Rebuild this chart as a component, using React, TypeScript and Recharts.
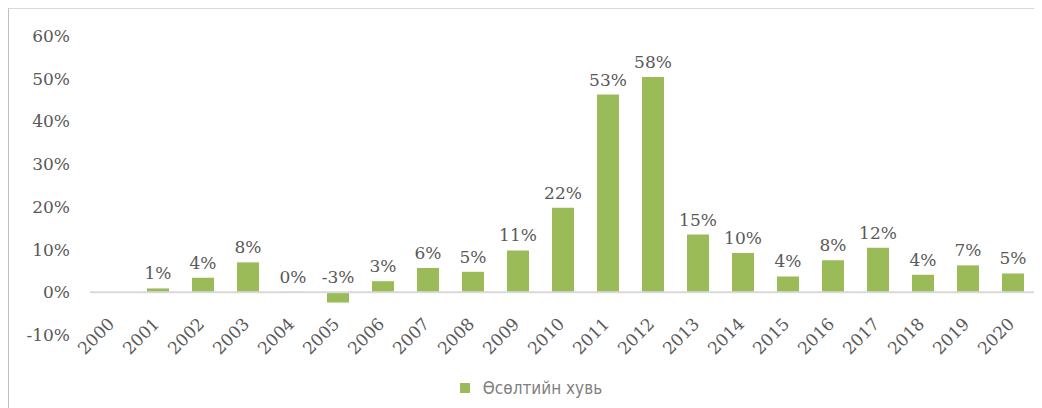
import { BarChart, Bar, XAxis, YAxis, ReferenceLine, Legend, LabelList } from 'recharts';

const YEARS = ['2000', '2001', '2002', '2003', '2004', '2005', '2006', '2007', '2008', '2009', '2010',
  '2011', '2012', '2013', '2014', '2015', '2016', '2017', '2018', '2019', '2020'];
// bar heights as drawn in the picture
const GROWTH = [0, 0.009, 0.034, 0.07, 0.001, -0.024, 0.026, 0.057, 0.048, 0.098, 0.198,
  0.463, 0.504, 0.135, 0.092, 0.037, 0.075, 0.104, 0.041, 0.063, 0.044];
// data labels as printed above the bars
const LABELS = ['', '1%', '4%', '8%', '0%', '-3%', '3%', '6%', '5%', '11%', '22%',
  '53%', '58%', '15%', '10%', '4%', '8%', '12%', '4%', '7%', '5%'];
const Y_TICKS = [-0.1, 0, 0.1, 0.2, 0.3, 0.4, 0.5, 0.6];

const data = YEARS.map((year, i) => ({ year, growth: GROWTH[i], label: LABELS[i] }));

const FONT = '"DejaVu Serif", serif';
const TEXT = '#595959';

const YearTick = (props: any) => {
  const { x, y, payload } = props;
  const tx = x + 3;
  const ty = y - 18;
  return (
    <text x={tx} y={ty} textAnchor="end" fill={TEXT} fontSize={17} fontFamily={FONT}
      transform={`rotate(-45, ${tx}, ${ty})`}>
      {payload.value}
    </text>
  );
};

const renderLabel = (props: any) => {
  const { x, y, width, height, value } = props;
  // above the bar top, or above the zero line for negative bars
  const top = height < 0 ? y + height : y;
  return (
    <text x={x + width / 2} y={top - 9} textAnchor="middle" fill={TEXT} fontSize={17} fontFamily={FONT}>
      {value}
    </text>
  );
};

const LegendBox = () => (
  <div style={{ height: 24, display: 'flex', justifyContent: 'center', alignItems: 'center', paddingLeft: 18,
    fontFamily: '"Liberation Sans Narrow", "DejaVu Sans Condensed", sans-serif', fontSize: 17, color: '#7f7f7f' }}>
    <span style={{ width: 10, height: 10, background: '#9bbb59', marginRight: 13 }} />
    <span>Өсөлтийн хувь</span>
  </div>
);

export default function App() {
  return (
    <div style={{ width: 1034, height: 400, borderTop: '1px solid #d9d9d9', borderLeft: '1px solid #bfbfbf', boxSizing: 'border-box' }}>
      <BarChart width={1033} height={399} data={data} barSize={22}
        margin={{ top: 27, right: 7, left: 0, bottom: 8 }}>
        <XAxis dataKey="year" axisLine={false} tickLine={false}
          height={41} interval={0} tick={<YearTick />} />
        <YAxis domain={[-0.1, 0.6]} ticks={Y_TICKS} axisLine={false} tickLine={false} width={81}
          tickMargin={14} tickFormatter={(v: number) => `${Math.round(v * 100)}%`}
          tick={{ fill: TEXT, fontSize: 17, fontFamily: FONT }} />
        <Bar dataKey="growth" fill="#9bbb59" isAnimationActive={false}>
          <LabelList dataKey="label" content={renderLabel} />
        </Bar>
        <ReferenceLine y={0} stroke="#d9d9d9" strokeWidth={2} />
        <Legend verticalAlign="bottom" content={<LegendBox />} />
      </BarChart>
    </div>
  );
}
